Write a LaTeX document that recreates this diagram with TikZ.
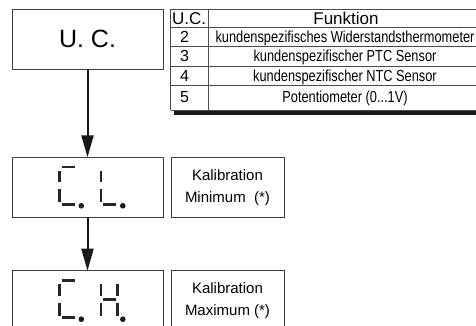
\documentclass[tikz,border=0pt]{standalone}
\usepackage{fontspec}
\setmainfont{Liberation Sans}
\newfontfamily\narrowfont[FakeStretch=0.8]{Liberation Sans}
\usetikzlibrary{arrows.meta}
\newcommand\dsTop{\draw[seg] (2,9.5) -- (15,9.5);}
\newcommand\dsMid{\draw[seg] (2,28.6) -- (15,28.6);}
\newcommand\dsBot{\draw[seg] (2,47) -- (15,47);}
\newcommand\dsUL{\draw[seg] (0,13.5) -- (0,25);}
\newcommand\dsLL{\draw[seg] (0,32) -- (0,45);}
\newcommand\dsUR{\draw[seg] (16.5,13.5) -- (16.5,25);}
\newcommand\dsLR{\draw[seg] (16.5,32) -- (16.5,45);}
\newcommand\dsDot{\fill[segdot] (21.8,48.5) circle[radius=2.8pt];}
\begin{document}
\begin{tikzpicture}[x=1pt,y=-1pt,
  box/.style={draw=black!75, line width=0.9pt, minimum width=151pt, minimum height=60pt, inner sep=0pt, outer sep=0pt},
  kbox/.style={draw=black!75, line width=0.9pt, minimum width=113pt, minimum height=60pt, inner sep=0pt, outer sep=0pt, align=center, font=\fontsize{15}{22}\selectfont},
  grid/.style={draw=black!70, line width=0.8pt},
  seg/.style={line width=2.6pt, draw=black!85},
  segdot/.style={fill=black!90},
  flow/.style={draw=black!90, line width=2pt, -{Triangle[length=22pt,width=12pt]}},
  hdr/.style={font=\fontsize{17}{17}\selectfont, inner sep=0pt},
  num/.style={font=\fontsize{16}{16}\selectfont, inner sep=0pt},
  cell/.style={font=\narrowfont\fontsize{16}{16}\selectfont, inner sep=0pt},
]
\useasboundingbox (0,0) rectangle (476,326);
\clip (0,0) rectangle (476,326);

% flow boxes
\node[box, font=\fontsize{25}{25}\selectfont] (uc) at (87.5,39.3) {U. C.};
\node[box] (cl) at (87.5,187.3) {};
\node[box] (ch) at (87.5,300.7) {};
\node[kbox] (kmin) at (227.5,187.3) {Kalibration\\Minimum~~(*)};
\node[kbox] (kmax) at (227.5,300.7) {Kalibration\\Maximum (*)};

\draw[flow] (uc.south) -- (cl.north);
\draw[flow] (cl.south) -- (ch.north);

% display C.L.
\begin{scope}[shift={(59.5,157.3)}]
  \dsTop \dsUL \dsLL \dsBot \dsDot
\end{scope}
\begin{scope}[shift={(101,157.3)}]
  \dsUL \dsLL \dsBot \dsDot
\end{scope}
% display C.H.
\begin{scope}[shift={(59.5,270.7)}]
  \dsTop \dsUL \dsLL \dsBot \dsDot
\end{scope}
\begin{scope}[shift={(101,270.7)}]
  \dsUL \dsLL \dsUR \dsLR \dsMid \dsDot
\end{scope}

% table
\fill[black!90] (174,110.8) rectangle (490,115);
\foreach \yy in {9.3,27.7,46.7,66,85,110.3}{
  \draw[grid] (170.7,\yy) -- (484,\yy);
}
\draw[grid] (170.7,9.3) -- (170.7,110.3);
\draw[grid] (208.3,9.3) -- (208.3,110.3);
\draw[grid] (484,9.3) -- (484,110.3);

\node[hdr, anchor=base west] (huc) at (172,25) {U.C.};
\node[hdr, anchor=base] (hfn) at (346,25) {Funktion};

\node[num, anchor=base west] (n2) at (180,43) {2};
\node[num, anchor=base west] (n3) at (180,62) {3};
\node[num, anchor=base west] (n4) at (180,81.3) {4};
\node[num, anchor=base west] (n5) at (180,102.3) {5};

\node[cell, anchor=base] (f2) at (345,43) {kundenspezifisches Widerstandsthermometer};
\node[cell, anchor=base] (f3) at (345,62) {kundenspezifischer PTC Sensor};
\node[cell, anchor=base] (f4) at (345,81.3) {kundenspezifischer NTC Sensor};
\node[cell, anchor=base] (f5) at (345,102.3) {Potentiometer (0...1V)};
\end{tikzpicture}
\end{document}
